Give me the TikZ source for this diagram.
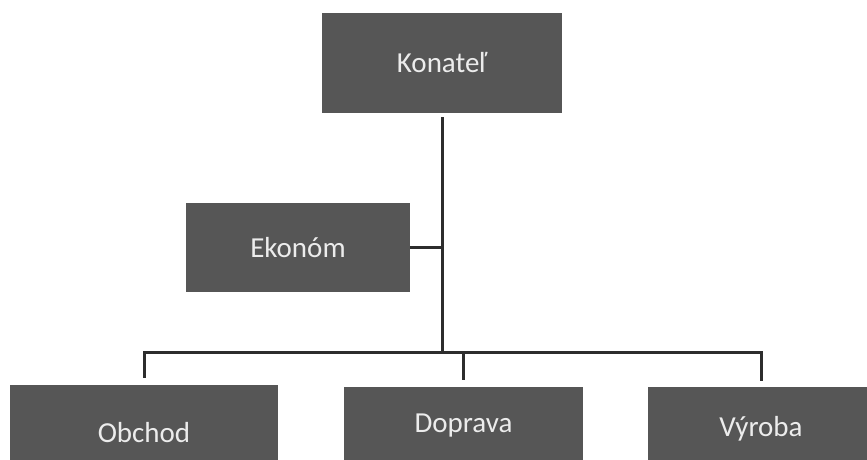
\documentclass[tikz,border=0pt]{standalone}
\usepackage{fontspec}
\newfontfamily\orgfont{Carlito}
\usetikzlibrary{positioning}
\definecolor{boxgray}{RGB}{86,86,86}
\definecolor{linegray}{RGB}{45,45,45}
\definecolor{textwhite}{RGB}{236,236,236}
\tikzset{
  orgbox/.style={rectangle, fill=boxgray, text=textwhite, inner sep=0pt,
    font=\orgfont\fontsize{29}{34}\selectfont},
  orgline/.style={draw=linegray, line width=3pt, line join=miter}
}

\begin{document}
\begin{tikzpicture}[x=1pt, y=-1pt]
    \useasboundingbox (0, 0) rectangle (867, 459);
    \clip (0, 0) rectangle (867, 459);
    \fill[white] (0, 0) rectangle (867, 459);
    % boxes
    \node[orgbox, minimum width=240pt, minimum height=100pt] (konatel) at (442, 63) {Konateľ};
    \node[orgbox, minimum width=224pt, minimum height=89pt] (ekonom) at (298, 247.5) {Ekonóm};
    \node[orgbox, minimum width=268pt, minimum height=96pt] (obchod) at (144, 433) {Obchod};
    \node[orgbox, minimum width=239pt, minimum height=78pt] (doprava) at (463.5, 426) {Doprava};
    \node[orgbox, minimum width=226pt, minimum height=84pt] (vyroba) at (761, 429) {Výroba};
    % connectors
    \coordinate (hub) at (442, 352);
    \path[orgline] ([yshift=-4pt]konatel.south) -- (hub);
    \path[orgline] (ekonom.east) -- (ekonom.east -| hub);
    \path[orgline] ([yshift=7pt]obchod.north) -- (obchod.north |- hub) -- (vyroba.north |- hub) -- ([yshift=6pt]vyroba.north);
    \path[orgline] (doprava.north |- hub) -- ([yshift=7pt]doprava.north);
  \end{tikzpicture}
\end{document}
